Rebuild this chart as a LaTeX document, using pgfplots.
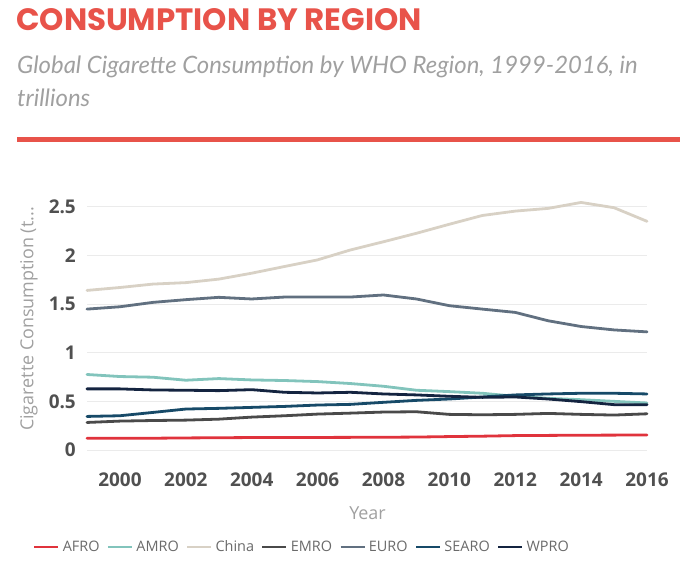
\documentclass[border=0pt]{standalone}
\usepackage{fontspec}
\setmainfont{Open Sans}
\newfontfamily\titlefont{Poppins}
\newfontfamily\subfont{Lato}
\usepackage{pgfplots}
\pgfplotsset{compat=1.18}
\usepackage{pgfplotstable}

\definecolor{titlered}{HTML}{E8534A}
\definecolor{subgray}{HTML}{A0A0A0}
\definecolor{tickgray}{HTML}{505050}
\definecolor{cAFRO}{HTML}{E0333C}
\definecolor{cAMRO}{HTML}{82C4BC}
\definecolor{cChina}{HTML}{D8D1C5}
\definecolor{cEMRO}{HTML}{4A4A4A}
\definecolor{cEURO}{HTML}{617080}
\definecolor{cSEARO}{HTML}{174A68}
\definecolor{cWPRO}{HTML}{142440}

\pgfplotstableread{
year AFRO AMRO China EMRO EURO SEARO WPRO
1999 0.121 0.776 1.640 0.283 1.448 0.345 0.628
2000 0.121 0.755 1.670 0.297 1.472 0.352 0.628
2001 0.121 0.748 1.705 0.303 1.517 0.386 0.617
2002 0.124 0.717 1.720 0.307 1.545 0.421 0.614
2003 0.126 0.734 1.756 0.317 1.569 0.428 0.610
2004 0.128 0.720 1.817 0.338 1.552 0.438 0.620
2005 0.128 0.714 1.886 0.352 1.572 0.448 0.593
2006 0.129 0.703 1.954 0.369 1.572 0.462 0.586
2007 0.130 0.683 2.056 0.379 1.572 0.469 0.593
2008 0.131 0.655 2.140 0.390 1.593 0.490 0.576
2009 0.133 0.614 2.227 0.393 1.552 0.510 0.566
2010 0.138 0.600 2.320 0.366 1.483 0.524 0.552
2011 0.142 0.583 2.410 0.362 1.448 0.545 0.541
2012 0.148 0.552 2.455 0.366 1.414 0.566 0.545
2013 0.150 0.531 2.483 0.376 1.328 0.576 0.524
2014 0.152 0.517 2.544 0.366 1.269 0.583 0.497
2015 0.153 0.500 2.490 0.359 1.234 0.583 0.466
2016 0.155 0.483 2.350 0.372 1.214 0.576 0.466
}\datatable

\begin{document}
\begin{tikzpicture}
\useasboundingbox (0,0) rectangle (694bp,562bp);
% title block
\node[anchor=base west, inner sep=0pt, text=titlered, font=\titlefont\bfseries\fontsize{31}{31}\selectfont] at (16bp,531bp) {CONSUMPTION BY REGION};
\node[anchor=base west, inner sep=0pt, text=subgray, font=\subfont\itshape\fontsize{24}{24}\selectfont] at (17bp,488bp) {Global Cigarette Consumption by WHO Region, 1999-2016, in};
\node[anchor=base west, inner sep=0pt, text=subgray, font=\subfont\itshape\fontsize{24}{24}\selectfont] at (17bp,455bp) {trillions};
\draw[titlered, line width=5bp] (17bp,422bp) -- (680bp,422bp);

\begin{axis}[
  at={(87bp,112bp)}, anchor=south west,
  scale only axis, width=560bp, height=253bp,
  xmin=1999, xmax=2016, ymin=0, ymax=2.6,
  clip=false,
  axis line style={draw=none},
  major tick length=0pt,
  xtick={2000,2002,...,2016},
  ytick={0,0.5,1,1.5,2,2.5},
  ymajorgrids,
  grid style={draw=black!8, line width=0.7bp},
  /pgf/number format/assume math mode=true,
  /pgf/number format/1000 sep={},
  ticklabel style={font=\bfseries\fontsize{19}{19}\selectfont, text=tickgray, inner sep=0pt},
  yticklabel style={anchor=east, xshift=-11bp},
  xticklabel style={anchor=north, yshift=-23bp},
  yticklabel={\pgfmathprintnumber{\tick}},
  xlabel={Year},
  ylabel={Cigarette Consumption (t...},
  label style={font=\fontsize{18}{18}\selectfont, text=subgray, inner sep=0pt},
  xlabel style={at={(axis description cs:0.5009,-0.249)}, anchor=center},
  ylabel style={at={(axis description cs:-0.1036,0.5178)}, anchor=center},
  every axis plot/.append style={line width=2.8bp, line join=round, line cap=round},
  legend columns=-1,
  legend style={at={(axis description cs:-0.0964,-0.3834)}, anchor=west,
    draw=none, fill=none, inner sep=0pt, outer sep=0pt,
    font=\fontsize{14.5}{14.5}\selectfont, text=tickgray!85,
    nodes={inner sep=0pt},
    /tikz/every odd column/.append style={column sep=3bp},
    /tikz/every even column/.append style={column sep=7bp}},
  legend image code/.code={\draw[#1, line width=2.8bp, line cap=butt] (0bp,0bp) -- (24bp,0bp);},
]
\addplot[cAFRO] table[x=year, y=AFRO] {\datatable};
\addlegendentry{AFRO}
\addplot[cAMRO] table[x=year, y=AMRO] {\datatable};
\addlegendentry{AMRO}
\addplot[cChina] table[x=year, y=China] {\datatable};
\addlegendentry{China}
\addplot[cEMRO] table[x=year, y=EMRO] {\datatable};
\addlegendentry{EMRO}
\addplot[cEURO] table[x=year, y=EURO] {\datatable};
\addlegendentry{EURO}
\addplot[cSEARO] table[x=year, y=SEARO] {\datatable};
\addlegendentry{SEARO}
\addplot[cWPRO] table[x=year, y=WPRO] {\datatable};
\addlegendentry{WPRO}
\end{axis}
\end{tikzpicture}
\end{document}
